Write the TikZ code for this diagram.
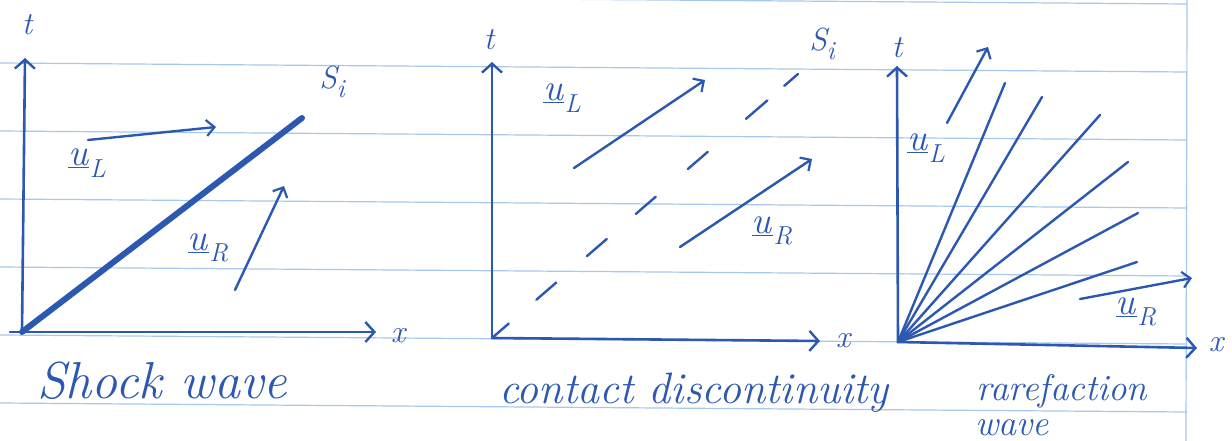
\documentclass[tikz,border=0pt]{standalone}
\usetikzlibrary{arrows.meta,calc}
\definecolor{ink}{RGB}{44,88,178}
\definecolor{ruling}{RGB}{165,200,236}
% subscripted labels set in scalable text italics
\newcommand{\sublbl}[3]{\textit{#1}\raisebox{-0.28em}{\fontsize{#3}{#3}\selectfont\textit{#2}}}
\newcommand{\stvec}[1]{\underline{\textit{u}}\kern1pt\raisebox{-0.3em}{\fontsize{26}{28}\selectfont\textit{#1}}}
\tikzset{
  ink/.style={draw=ink, line width=2.6pt, line cap=round},
  axis/.style={ink, -{Straight Barb[length=9pt,width=20pt,line width=2.4pt]}},
  vel/.style={ink, line width=2.4pt, -{Straight Barb[length=8pt,width=16pt,line width=2.2pt]}},
  fan/.style={ink, line width=2.4pt},
  seg/.style={ink, line width=2.4pt},
  rule/.style={draw=ruling, line width=1.2pt},
  lbl/.style={text=ink, inner sep=0pt, font=\fontsize{32}{36}\itshape\selectfont},
  state/.style={text=ink, inner sep=0pt, font=\fontsize{38}{42}\selectfont},
  caption/.style={text=ink, inner sep=0pt, anchor=base, font=\fontsize{44}{50}\itshape\selectfont},
}
\begin{document}
\begin{tikzpicture}[x=1pt,y=-1pt]
\useasboundingbox (0,0) rectangle (1232,441);
\fill[white] (0,0) rectangle (1232,441);

% ruled notebook paper
\foreach \k in {-1,0,...,5}
  \draw[rule] (0,63+68*\k) -- (1187,72+68*\k);
\draw[rule] (1187,0) -- (1186,441);

% ---------------- shock wave ----------------
\coordinate (o1) at (22,332);
\coordinate (t1) at (25,58);
\coordinate (x1) at (376,332);
\draw[axis] (o1) -- (t1);
\draw[axis] (10,332) -- (x1);
\node[lbl] (tl1) at (27,25) {t};
\node[lbl] (xl1) at (398,336) {x};
\coordinate (s1) at (302,118);
\draw[ink, line width=6pt] (o1) -- (s1);
\node[lbl] (si1) at (332,82) {\sublbl{S}{i}{26}};
\coordinate (ula) at (88,140);
\coordinate (ulb) at (216,127);
\draw[vel] (ula) -- (ulb);
\node[state] (ul1) at (87,163) {\stvec{L}};
\coordinate (ura) at (235,290);
\coordinate (urb) at (284,186);
\draw[vel] (ura) -- (urb);
\node[state] (ur1) at (208,248) {\stvec{R}};
\node[caption, font=\fontsize{52}{58}\itshape\selectfont] (c1) at (162,398) {Shock wave};

% ---------------- contact discontinuity ----------------
\coordinate (o2) at (492,338);
\coordinate (t2) at (492,62);
\coordinate (x2) at (820,341);
\draw[axis] (o2) -- (t2);
\draw[axis] (o2) -- (x2);
\node[lbl] (tl2) at (489,40) {t};
\node[lbl] (xl2) at (843,341) {x};
\coordinate (s2) at (798,74);
\draw[seg] (o2) -- ($(o2)!0.055!(s2)$);
\foreach \a/\b in {0.145/0.21, 0.31/0.375, 0.47/0.535, 0.64/0.705, 0.83/0.9, 0.955/1}
  \draw[seg] ($(o2)!\a!(s2)$) -- ($(o2)!\b!(s2)$);
\node[lbl] (si2) at (822,44) {\sublbl{S}{i}{26}};
\coordinate (ul2a) at (574,168);
\coordinate (ul2b) at (705,80);
\draw[vel] (ul2a) -- (ul2b);
\node[state] (ul2) at (562,98) {\stvec{L}};
\coordinate (ur2a) at (680,247);
\coordinate (ur2b) at (812,159);
\draw[vel] (ur2a) -- (ur2b);
\node[state] (ur2) at (772,231) {\stvec{R}};
\node[caption] (c2) at (694,403) {contact discontinuity};

% ---------------- rarefaction wave ----------------
\coordinate (o3) at (898,342);
\coordinate (t3) at (897,66);
\coordinate (x3) at (1197,348);
\draw[axis] (o3) -- (t3);
\draw[axis] (o3) -- (x3);
\node[lbl] (tl3) at (897,48) {t};
\node[lbl] (xl3) at (1216,345) {x};
\foreach \ex/\ey in {1005/83, 1042/97, 1100/115, 1128/162, 1138/213, 1137/262}
  \draw[fan] (o3) -- (\ex,\ey);
\coordinate (ul3a) at (947,123);
\coordinate (ul3b) at (988,47);
\draw[vel] (ul3a) -- (ul3b);
\node[state] (ul3) at (926,148) {\stvec{L}};
\coordinate (ur3a) at (1080,299);
\coordinate (ur3b) at (1192,278);
\draw[vel] (ur3a) -- (ur3b);
\node[state] (ur3) at (1136,312) {\stvec{R}};
\node[caption, font=\fontsize{37}{42}\itshape\selectfont] (c3a) at (1062,400) {rarefaction};
\node[caption, font=\fontsize{36}{42}\itshape\selectfont] (c3b) at (1012,435) {wave};
\end{tikzpicture}
\end{document}
